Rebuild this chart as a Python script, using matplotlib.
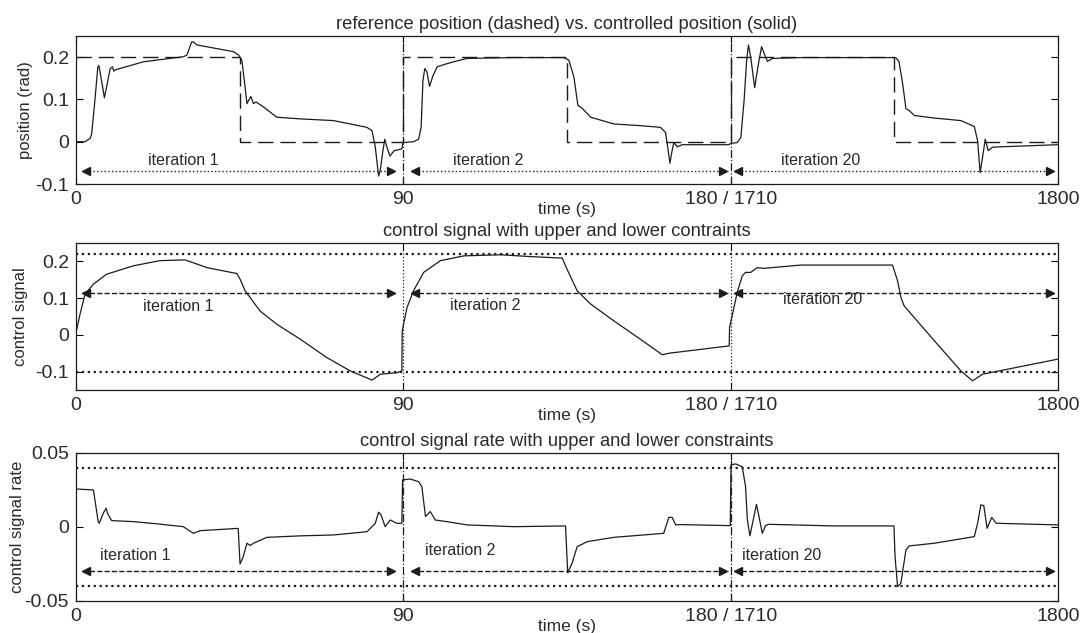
import matplotlib
matplotlib.use("Agg")
import matplotlib.pyplot as plt

plt.rcParams["font.family"] = ["Liberation Sans", "DejaVu Sans"]

# x axis: three 90 s iterations shown side by side (1, 2 and 20)
x_ticks = [0, 90, 180, 270]
x_ticklabels = ["0", "90", "180 / 1710", "1800"]
iter_bounds = [90, 180]
iter_names = ["iteration 1", "iteration 2", "iteration 20"]
arrow_start = [1.6, 92.0, 180.8]
arrow_end = [87.8, 179.2, 268.9]

# reference position (dashed)
ref_t = [0, 45, 45, 90, 90, 135, 135, 180, 180, 225, 225, 270]
ref_pos = [0.2, 0.2, 0, 0, 0.2, 0.2, 0, 0, 0.2, 0.2, 0, 0]

# controlled position (solid)
pos_t = [0, 2.5, 3.9, 4.3, 5.2, 6.0, 6.3, 7.5, 7.8, 8.4, 9.4, 10.0, 10.4, 10.8,
         18.5, 29.5, 30.5, 31.8, 32.3, 33.2, 43.3, 44.7, 45.6, 46.5, 47.0, 47.4,
         48.1, 48.8, 49.5, 51.6, 55.2, 61.7, 70.8, 80.0, 81.4, 82.3, 83.2, 83.6,
         84.4, 84.9, 85.5, 86.3, 87.5, 89.6,
         89.9, 92.8, 94.2, 94.9, 95.4, 95.9, 96.5, 97.2, 98.2, 99.3, 100.6, 103.8,
         107.5, 120.3, 134.1, 135.5, 136.9, 138.0, 138.7, 139.3, 141.5, 147.9,
         155.2, 160.7, 162.1, 162.7, 163.3, 163.9, 164.4, 165.3, 166.7, 179.5,
         180.0, 181.8, 182.8, 183.7, 184.4, 184.9, 185.5, 186.6, 187.5, 188.5,
         189.2, 190.1, 191.5, 199.3, 225.4, 226.3, 227.3, 228.2, 229.1, 230.5,
         236.0, 243.3, 247.0, 247.9, 248.6, 249.4, 250.0, 250.8, 252.0, 254.3, 270]
pos_v = [0, 0, 0.008, 0.018, 0.098, 0.177, 0.18, 0.121, 0.104, 0.129, 0.173, 0.177, 0.167, 0.170,
         0.189, 0.201, 0.205, 0.236, 0.236, 0.229, 0.213, 0.205, 0.193, 0.129, 0.090, 0.097,
         0.107, 0.090, 0.094, 0.082, 0.058, 0.054, 0.050, 0.034, 0.026, -0.013, -0.081, -0.07,
         -0.021, 0.006, -0.013, -0.034, -0.021, -0.017,
         -0.002, 0, 0.006, 0.034, 0.145, 0.173, 0.165, 0.131, 0.157, 0.177, 0.181, 0.189,
         0.197, 0.199, 0.199, 0.193, 0.153, 0.086, 0.082, 0.078, 0.058, 0.042,
         0.038, 0.034, 0.022, -0.013, -0.051, -0.021, -0.002, -0.012, -0.007, -0.007,
         -0.004, -0.002, 0.010, 0.098, 0.193, 0.229, 0.201, 0.128, 0.177, 0.225,
         0.209, 0.190, 0.197, 0.199, 0.199, 0.189, 0.137, 0.078, 0.074, 0.062,
         0.056, 0.050, 0.036, 0.002, -0.073, -0.029, 0.006, -0.021, -0.013, -0.012, -0.007]

# control signal
u_max, u_min = 0.22, -0.1
ctrl_t = [0, 1.1, 2.5, 4.8, 8.4, 15.8, 23.1, 30.0, 36.0, 44.2, 45.1, 46.5, 50.6,
          55.2, 61.7, 69.0, 75.4, 81.4, 83.7, 88.3, 89.6,
          89.7, 91.0, 92.8, 95.6, 100.2, 106.6, 116.7, 125.0, 133.7, 135.0, 137.8,
          141.5, 147.9, 155.2, 161.2, 163.0, 179.6,
          179.7, 180.9, 181.8, 183.2, 184.1, 185.5, 187.3, 189.1, 199.3, 224.5,
          225.9, 226.8, 227.7, 236.0, 243.3, 246.5, 249.3, 270]
ctrl_v = [0.006, 0.056, 0.111, 0.138, 0.165, 0.188, 0.202, 0.204, 0.183, 0.167, 0.152, 0.120, 0.065,
          0.029, -0.012, -0.062, -0.098, -0.123, -0.107, -0.103, -0.098,
          0.011, 0.074, 0.120, 0.170, 0.202, 0.215, 0.218, 0.213, 0.209, 0.179, 0.120,
          0.084, 0.038, -0.012, -0.054, -0.050, -0.030,
          0.020, 0.074, 0.115, 0.161, 0.170, 0.170, 0.183, 0.181, 0.190, 0.190,
          0.147, 0.102, 0.079, -0.016, -0.098, -0.125, -0.107, -0.066]

# control signal rate
du_max, du_min = 0.04, -0.04
rate_t = [0, 4.8, 5.1, 6.1, 6.4, 7.5, 8.3, 8.7, 9.8, 15.8, 22.0, 29.5, 32.3, 34.1,
          44.2, 44.6, 45.1, 46.0, 47.0, 47.9, 48.8, 52.5, 61.7, 70.8, 80.0, 82.3,
          83.2, 83.9, 85.0, 86.4, 88.2, 89.6,
          89.8, 91.9, 94.2, 95.1, 96.1, 97.4, 98.8, 102.0, 107.5, 120.3, 134.6,
          134.8, 135.2, 136.4, 137.8, 140.6, 147.9, 161.6, 163.0, 163.9, 164.9,
          166.3, 179.9,
          180.1, 181.4, 183.2, 184.1, 184.6, 185.3, 186.2, 187.1, 187.8, 188.7,
          189.6, 190.5, 208.4, 224.9, 225.2, 225.9, 226.8, 228.2, 229.1, 236.0,
          247.0, 247.9, 248.8, 249.6, 250.5, 251.8, 253.0, 270]
rate_v = [0.0257, 0.025, 0.020, 0.0036, 0.0025, 0.0093, 0.0126, 0.009, 0.0043, 0.0036, 0.0022, 0.0002, -0.0043, -0.0025,
          -0.001, -0.001, -0.025, -0.020, -0.011, -0.0125, -0.011, -0.007, -0.006, -0.0054, -0.0032, 0.0025,
          0.010, 0.008, 0.0002, 0.0047, 0.0025, 0.0025,
          0.0318, 0.0324, 0.0306, 0.0272, 0.007, 0.0104, 0.0047, 0.0036, 0.0014, 0.0002, 0.0007,
          -0.01, -0.031, -0.0245, -0.0133, -0.0099, -0.007, -0.0043, 0.0065, 0.0065, 0.0014,
          0.0016, 0.0009,
          0.042, 0.0426, 0.0407, 0.0272, 0.0047, -0.006, 0.0047, 0.0153, 0.007, -0.0043,
          0.001, 0.0018, 0.0007, 0.0007, -0.02, -0.0403, -0.038, -0.0155, -0.0128, -0.011,
          -0.0065, 0.0025, 0.0149, 0.0145, -0.0009, 0.0065, 0.0025, 0.0014]

ink = "#1c1c1c"
text_col = "#2a2a2a"

fig = plt.figure(figsize=(10.81, 6.33), dpi=100)
ax1 = fig.add_axes([0.0703, 0.7093, 0.9084, 0.2338])
ax2 = fig.add_axes([0.0703, 0.3839, 0.9084, 0.2322])
ax3 = fig.add_axes([0.0703, 0.0506, 0.9084, 0.2338])

# top: position
ax1.plot(ref_t, ref_pos, color=ink, lw=1.0, dashes=(11, 5))
ax1.plot(pos_t, pos_v, color=ink, lw=0.9)

# middle: control signal
ax2.plot(ctrl_t, ctrl_v, color=ink, lw=0.9)
ax2.axhline(u_max, color=ink, lw=1.6, ls=":")
ax2.axhline(u_min, color=ink, lw=1.6, ls=":")

# bottom: rate
ax3.plot(rate_t, rate_v, color=ink, lw=0.9)
ax3.axhline(du_max, color=ink, lw=1.6, ls=":")
ax3.axhline(du_min, color=ink, lw=1.6, ls=":")

panels = [
    (ax1, (-0.1, 0.25), [-0.1, 0, 0.1, 0.2], ["-0.1", "0", "0.1", "0.2"],
     "position (rad)", "reference position (dashed) vs. controlled position (solid)",
     -0.07, ":", "-.", [-0.045, -0.045, -0.045], -0.044),
    (ax2, (-0.15, 0.25), [-0.1, 0, 0.1, 0.2], ["-0.1", "0", "0.1", "0.2"],
     "control signal", "control signal with upper and lower contraints",
     0.115, "--", ":", [0.076, 0.081, 0.097], -0.049),
    (ax3, (-0.05, 0.05), [-0.05, 0, 0.05], ["-0.05", "0", "0.05"],
     "control signal rate", "control signal rate with upper and lower constraints",
     -0.03, "--", "-.", [-0.0194, -0.0162, -0.0194], -0.052),
]
label_x = [[29.5, 113.4, 204.7], [28.2, 112.6, 205.2], [16.2, 105.7, 193.9]]

for i, (ax, ylim, yt, ytl, ylab, title, arr_y, arr_ls, vls, lab_y, ylab_x) in enumerate(panels):
    for b in iter_bounds:
        ax.axvline(b, color=ink, lw=0.9, ls=vls)
    for s, e, name, lx, ly in zip(arrow_start, arrow_end, iter_names, label_x[i], lab_y):
        ax.plot([s, e], [arr_y, arr_y], color=ink, lw=1.0, ls=arr_ls)
        ax.plot([s + 1.2], [arr_y], marker="<", color=ink, ms=6, mec=ink)
        ax.plot([e - 1.2], [arr_y], marker=">", color=ink, ms=6, mec=ink)
        ax.text(lx, ly, name, ha="center", va="center", fontsize=11.5, color=text_col)
    ax.set_xlim(0, 270)
    ax.set_ylim(*ylim)
    ax.set_xticks(x_ticks)
    ax.set_xticklabels(x_ticklabels)
    ax.set_yticks(yt)
    ax.set_yticklabels(ytl)
    ax.tick_params(direction="in", top=True, right=True, length=5, width=0.8,
                   labelsize=14, labelcolor=text_col, pad=5)
    ax.set_xlabel("time (s)", fontsize=12.5, color=text_col, labelpad=-4)
    ax.set_ylabel(ylab, fontsize=12, color=text_col)
    ax.yaxis.set_label_coords(ylab_x, 0.5)
    ax.set_title(title, fontsize=13.2, color=text_col, pad=5)
    for sp in ax.spines.values():
        sp.set_linewidth(0.9)
        sp.set_color(ink)

fig.savefig("out.png", dpi=100)
